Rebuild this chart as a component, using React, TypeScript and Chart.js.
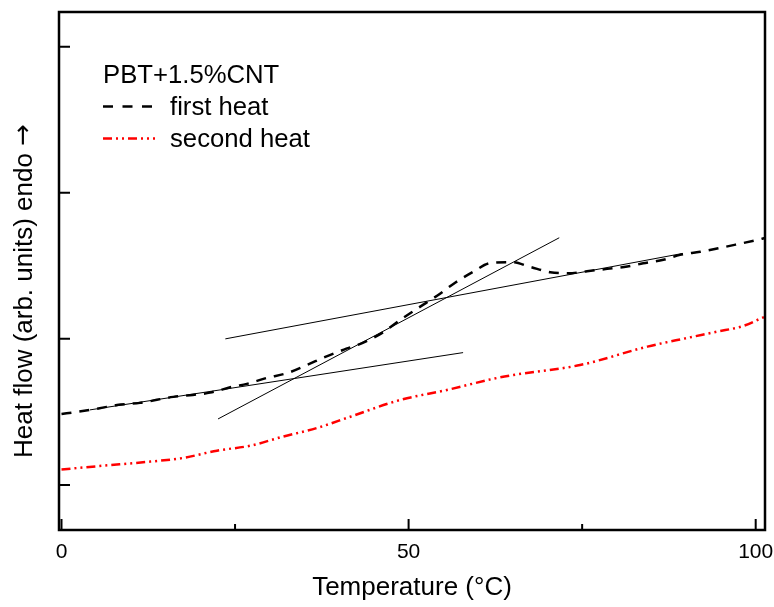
import React, { useEffect, useRef } from "react";
import { Chart, registerables } from "chart.js";

Chart.register(...registerables);

// ---- data ----
const firstHeatT = [0, 2.2, 4.1, 5.5, 8.0, 11.3, 16.1, 18.9, 21.4, 24.7, 26.7, 29.6, 32.6, 35.4, 38.0, 40.6, 43.4, 46.2, 48.8, 51.4, 54.1, 56.7, 59.3, 61.7, 64.9, 67.5, 70.4, 73.0, 75.7, 78.6, 81.5, 83.8, 86.7, 89.1, 92.0, 94.6, 97.3, 100.2, 101.3];
const firstHeatY = [0.486, 0.5, 0.514, 0.525, 0.548, 0.562, 0.603, 0.616, 0.632, 0.673, 0.692, 0.733, 0.767, 0.822, 0.877, 0.925, 0.973, 1.041, 1.13, 1.212, 1.295, 1.384, 1.459, 1.518, 1.525, 1.493, 1.456, 1.449, 1.463, 1.479, 1.495, 1.517, 1.541, 1.575, 1.596, 1.62, 1.647, 1.677, 1.69];

const secondHeatT = [0, 5.5, 12.8, 17.5, 22.4, 27.2, 31.9, 36.8, 41.6, 48.8, 55.5, 62.7, 65.1, 74.7, 84.4, 90.1, 94.4, 98.2, 100.9, 101.3];
const secondHeatY = [0.106, 0.13, 0.16, 0.185, 0.235, 0.269, 0.331, 0.39, 0.467, 0.582, 0.65, 0.732, 0.753, 0.821, 0.947, 1.006, 1.049, 1.088, 1.143, 1.15];

const tangentLowT = [4.1, 57.85];
const tangentLowY = [0.514, 0.906];
const tangentHighT = [23.6, 89.5];
const tangentHighY = [1.0, 1.585];
const tangentSteepT = [22.55, 71.7];
const tangentSteepY = [0.452, 1.692];

const xTickValues = [0, 50, 100];
const xTickLabels = ["0", "50", "100"];
const xMinorTickValues = [25, 75];
const yTickValues = [0, 1, 2, 3];

const legendTitle = "PBT+1.5%CNT";
const seriesNames = ["first heat", "second heat"];
const xTitle = "Temperature (°C)";
const yTitleText = "Heat flow (arb. units) endo ";
const yTitleArrow = "→";

const FONT = '"Liberation Sans", Arial, Helvetica, sans-serif';

function pts(xs: number[], ys: number[]) {
  return xs.map((x, i) => ({ x, y: ys[i] }));
}

const decorPlugin = {
  id: "decor",
  afterDraw(chart: any) {
    const ctx = chart.ctx as CanvasRenderingContext2D;
    const a = chart.chartArea;
    const xs = chart.scales.x;
    const ys = chart.scales.y;
    ctx.save();
    // frame
    ctx.strokeStyle = "#000";
    ctx.lineWidth = 2.5;
    ctx.setLineDash([]);
    ctx.strokeRect(a.left, a.top, a.right - a.left, a.bottom - a.top);
    // y ticks (inward)
    ctx.lineWidth = 2;
    ctx.beginPath();
    yTickValues.forEach((v) => {
      const py = ys.getPixelForValue(v);
      ctx.moveTo(a.left, py);
      ctx.lineTo(a.left + 11, py);
    });
    // x ticks
    xTickValues.forEach((v) => {
      const px = xs.getPixelForValue(v);
      ctx.moveTo(px, a.bottom);
      ctx.lineTo(px, a.bottom - 11);
    });
    xMinorTickValues.forEach((v) => {
      const px = xs.getPixelForValue(v);
      ctx.moveTo(px, a.bottom);
      ctx.lineTo(px, a.bottom - 6);
    });
    ctx.stroke();

    // x tick labels
    ctx.fillStyle = "#000";
    ctx.font = `21px ${FONT}`;
    ctx.textAlign = "center";
    ctx.textBaseline = "alphabetic";
    xTickValues.forEach((v, i) => {
      ctx.fillText(xTickLabels[i], xs.getPixelForValue(v), 558);
    });

    // x title
    ctx.font = `26px ${FONT}`;
    ctx.fillText(xTitle, (a.left + a.right) / 2, 595);

    // y title (text + larger arrow glyph)
    ctx.save();
    ctx.translate(32, 291);
    ctx.rotate(-Math.PI / 2);
    ctx.textAlign = "left";
    ctx.font = `26px ${FONT}`;
    const w1 = ctx.measureText(yTitleText).width;
    const arrowFont = `26px "DejaVu Sans", sans-serif`;
    ctx.font = arrowFont;
    const w2 = ctx.measureText(yTitleArrow).width;
    const start = -(w1 + w2) / 2;
    ctx.font = `26px ${FONT}`;
    ctx.fillText(yTitleText, start, 0);
    ctx.font = arrowFont;
    ctx.fillText(yTitleArrow, start + w1, -1);
    ctx.restore();

    // legend
    ctx.textAlign = "left";
    ctx.font = `25.7px ${FONT}`;
    ctx.fillText(legendTitle, 103, 83);
    ctx.fillText(seriesNames[0], 170, 115);
    ctx.fillText(seriesNames[1], 170, 147);

    ctx.lineWidth = 2.5;
    ctx.strokeStyle = "#000";
    ctx.setLineDash([10, 9.5]);
    ctx.beginPath();
    ctx.moveTo(103, 106.5);
    ctx.lineTo(152, 106.5);
    ctx.stroke();

    ctx.strokeStyle = "#ff0000";
    ctx.setLineDash([9, 4, 2, 4, 2, 4]);
    ctx.beginPath();
    ctx.moveTo(103, 138.5);
    ctx.lineTo(155, 138.5);
    ctx.stroke();
    ctx.restore();
  },
};

export default function App() {
  const ref = useRef<HTMLCanvasElement | null>(null);
  useEffect(() => {
    if (!ref.current) return;
    const chart = new Chart(ref.current, {
      type: "scatter",
      data: {
        datasets: [
          {
            label: "tangent low",
            data: pts(tangentLowT, tangentLowY),
            showLine: true,
            borderColor: "#000",
            borderWidth: 1,
            pointRadius: 0,
          },
          {
            label: "tangent high",
            data: pts(tangentHighT, tangentHighY),
            showLine: true,
            borderColor: "#000",
            borderWidth: 1,
            pointRadius: 0,
          },
          {
            label: "tangent steep",
            data: pts(tangentSteepT, tangentSteepY),
            showLine: true,
            borderColor: "#000",
            borderWidth: 1,
            pointRadius: 0,
          },
          {
            label: seriesNames[0],
            data: pts(firstHeatT, firstHeatY),
            showLine: true,
            borderColor: "#000",
            borderWidth: 2.5,
            borderDash: [10, 8],
            pointRadius: 0,
            cubicInterpolationMode: "monotone",
          },
          {
            label: seriesNames[1],
            data: pts(secondHeatT, secondHeatY),
            showLine: true,
            borderColor: "#ff0000",
            borderWidth: 2.5,
            borderDash: [9, 4, 2, 4, 2, 4],
            pointRadius: 0,
            cubicInterpolationMode: "monotone",
          },
        ],
      },
      options: {
        animation: false,
        responsive: false,
        maintainAspectRatio: false,
        layout: { padding: { left: 59, top: 12, right: 9, bottom: 77 } },
        plugins: { legend: { display: false }, tooltip: { enabled: false } },
        scales: {
          x: { type: "linear", min: -0.36, max: 101.34, display: false },
          y: { type: "linear", min: -0.308, max: 3.237, display: false },
        },
      },
      plugins: [decorPlugin],
    });
    return () => chart.destroy();
  }, []);
  return (
    <div style={{ position: "fixed", left: 0, top: 0, width: 774, height: 607, background: "#fff" }}>
      <canvas ref={ref} width={774} height={607} style={{ display: "block" }} />
    </div>
  );
}
